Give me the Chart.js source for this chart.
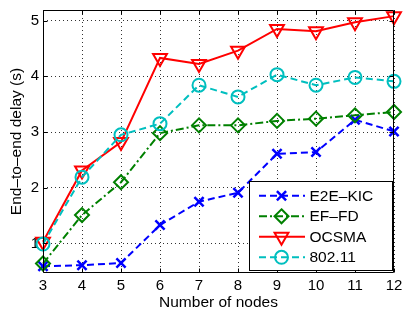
<!DOCTYPE html>
<html><head><meta charset="utf-8">
<script src="https://cdn.jsdelivr.net/npm/chart.js@4/dist/chart.umd.min.js"></script>
<style>html,body{margin:0;padding:0;background:#fff}#wrap{width:404px;height:314px}</style>
</head><body><div id="wrap"><canvas id="c" width="404" height="314"></canvas></div>
<script>
// ---- data ----
const nodes  = [3, 4, 5, 6, 7, 8, 9, 10, 11, 12];
const e2eKic = [0.59, 0.61, 0.65, 1.33, 1.75, 1.91, 2.61, 2.64, 3.22, 3.01];
const efFd   = [0.64, 1.51, 2.10, 2.98, 3.12, 3.12, 3.20, 3.24, 3.30, 3.36];
const ocsma  = [1.03, 2.31, 2.82, 4.33, 4.22, 4.46, 4.85, 4.81, 4.97, 5.08];
const wifi   = [0.99, 2.19, 2.95, 3.15, 3.84, 3.63, 4.03, 3.84, 3.98, 3.91];
const yTicks = [1, 2, 3, 4, 5];
const seriesNames = ['E2E–KIC', 'EF–FD', 'OCSMA', '802.11'];
const xTitle = 'Number of nodes';
const yTitle = 'End–to–end delay (s)';

const FONT = "'Liberation Sans', Arial, Helvetica, sans-serif";
const pts = arr => nodes.map((n, i) => ({x: n, y: arr[i]}));

const styles = [
  {color: '#0000FF', dash: [7, 4], marker: 'crossRot', r: 6.5, mw: 2.5, order: 3},
  {color: '#008000', dash: [8, 3, 2, 3], marker: 'rectRot', r: 7, mw: 2, order: 2},
  {color: '#FF0000', dash: [], marker: 'triangle', rot: 180, r: 8, mw: 2, order: 1},
  {color: '#00BFBF', dash: [7, 4], marker: 'circle', r: 6.5, mw: 2, order: 0}
];
const seriesData = [e2eKic, efFd, ocsma, wifi];

const datasets = seriesData.map((d, i) => ({
  label: seriesNames[i],
  data: pts(d),
  borderColor: styles[i].color,
  backgroundColor: 'rgba(0,0,0,0)',
  borderWidth: 2,
  borderDash: styles[i].dash,
  pointStyle: styles[i].marker,
  pointRotation: styles[i].rot || 0,
  pointRadius: styles[i].r,
  pointBorderWidth: styles[i].mw,
  pointBorderColor: styles[i].color,
  pointBackgroundColor: 'rgba(0,0,0,0)',
  tension: 0,
  clip: false,
  order: styles[i].order
}));

function drawMarker(ctx, s, x, y) {
  ctx.save();
  ctx.strokeStyle = s.color; ctx.lineWidth = s.mw; ctx.setLineDash([]);
  ctx.beginPath();
  const r = s.r;
  if (s.marker === 'crossRot') {
    const o = r * Math.SQRT1_2;
    ctx.moveTo(x - o, y - o); ctx.lineTo(x + o, y + o);
    ctx.moveTo(x - o, y + o); ctx.lineTo(x + o, y - o);
  } else if (s.marker === 'rectRot') {
    ctx.moveTo(x, y - r); ctx.lineTo(x + r, y); ctx.lineTo(x, y + r); ctx.lineTo(x - r, y); ctx.closePath();
  } else if (s.marker === 'triangle') {
    let a = Math.PI; // rotated 180
    ctx.moveTo(x + Math.sin(a) * r, y - Math.cos(a) * r);
    a += 2 * Math.PI / 3; ctx.lineTo(x + Math.sin(a) * r, y - Math.cos(a) * r);
    a += 2 * Math.PI / 3; ctx.lineTo(x + Math.sin(a) * r, y - Math.cos(a) * r);
    ctx.closePath();
  } else {
    ctx.arc(x, y, r, 0, Math.PI * 2);
  }
  ctx.stroke();
  ctx.restore();
}

const boxPlugin = {
  id: 'boxTicks',
  afterDatasetsDraw(chart) {
    const ctx = chart.ctx, a = chart.chartArea;
    const xs = chart.scales.x, ys = chart.scales.y;
    ctx.save();
    ctx.strokeStyle = '#000'; ctx.lineWidth = 1; ctx.setLineDash([]);
    const L = Math.round(a.left) + 0.5, R = Math.round(a.right) - 0.5;
    const T = Math.round(a.top) + 0.5, B = Math.round(a.bottom) - 0.5;
    ctx.beginPath();
    ctx.rect(L, T, R - L, B - T);
    const tl = 4;
    xs.ticks.forEach(t => {
      const px = Math.round(xs.getPixelForValue(t.value)) + 0.5;
      ctx.moveTo(px, B); ctx.lineTo(px, B - tl);
      ctx.moveTo(px, T); ctx.lineTo(px, T + tl);
    });
    ys.ticks.forEach(t => {
      const py = Math.round(ys.getPixelForValue(t.value)) + 0.5;
      ctx.moveTo(L, py); ctx.lineTo(L + tl, py);
      ctx.moveTo(R, py); ctx.lineTo(R - tl, py);
    });
    ctx.stroke();
    ctx.restore();
  },
  afterDraw(chart) {
    // legend box
    const ctx = chart.ctx, a = chart.chartArea;
    const right = Math.round(a.right - 2.3) + 0.5, bottom = Math.round(a.bottom - 3.5) + 0.5;
    const w = 143, h = 89.5;
    const left = right - w, top = Math.round(bottom - h) + 0.5;
    ctx.save();
    ctx.fillStyle = '#fff';
    ctx.fillRect(left, top, right - left, bottom - top);
    ctx.strokeStyle = '#000'; ctx.lineWidth = 1;
    ctx.strokeRect(left, top, right - left, bottom - top);
    chart.data.datasets.forEach((ds, i) => {
      const s = styles[i];
      const y = top + 14.3 + i * 20.5;
      ctx.save();
      ctx.strokeStyle = s.color; ctx.lineWidth = 2; ctx.setLineDash(s.dash);
      ctx.beginPath(); ctx.moveTo(left + 9.5, y); ctx.lineTo(left + 55.5, y); ctx.stroke();
      ctx.restore();
      drawMarker(ctx, s, left + 32, y);
      ctx.fillStyle = '#000';
      ctx.font = '15.5px ' + FONT;
      ctx.textBaseline = 'middle';
      ctx.textAlign = 'left';
      ctx.fillText(ds.label, left + 60, y + 0.5);
    });
    ctx.restore();
  }
};

new Chart(document.getElementById('c'), {
  type: 'line',
  data: {datasets},
  options: {
    responsive: false,
    devicePixelRatio: 1,
    animation: false,
    events: [],
    layout: {padding: {left: 0, right: 8, top: 4, bottom: 0}},
    plugins: {legend: {display: false}, tooltip: {enabled: false}},
    scales: {
      x: {
        type: 'linear', min: 3, max: 12,
        ticks: {stepSize: 1, color: '#000', font: {family: FONT, size: 15}, padding: 4, maxRotation: 0, autoSkip: false},
        grid: {color: '#333', lineWidth: 1, drawTicks: false},
        border: {display: false, dash: [1, 3]},
        title: {display: true, text: xTitle, color: '#000', font: {family: FONT, size: 15.5}, padding: {top: 0, bottom: 2}},
        afterFit(s) { s.height = 41; s.paddingLeft = 0; s.paddingRight = 0; }
      },
      y: {
        type: 'linear', min: 0.47, max: 5.19,
        afterBuildTicks(s) { s.ticks = yTicks.map(v => ({value: v})); },
        ticks: {color: '#000', font: {family: FONT, size: 15}, padding: 4},
        grid: {color: '#333', lineWidth: 1, drawTicks: false},
        border: {display: false, dash: [1, 3]},
        title: {display: true, text: yTitle, color: '#000', font: {family: FONT, size: 15.5}, padding: {top: 7, bottom: 0}},
        afterFit(s) { s.width = 43; s.paddingTop = 0; s.paddingBottom = 0; }
      }
    }
  },
  plugins: [boxPlugin]
});
</script>
</body></html>
